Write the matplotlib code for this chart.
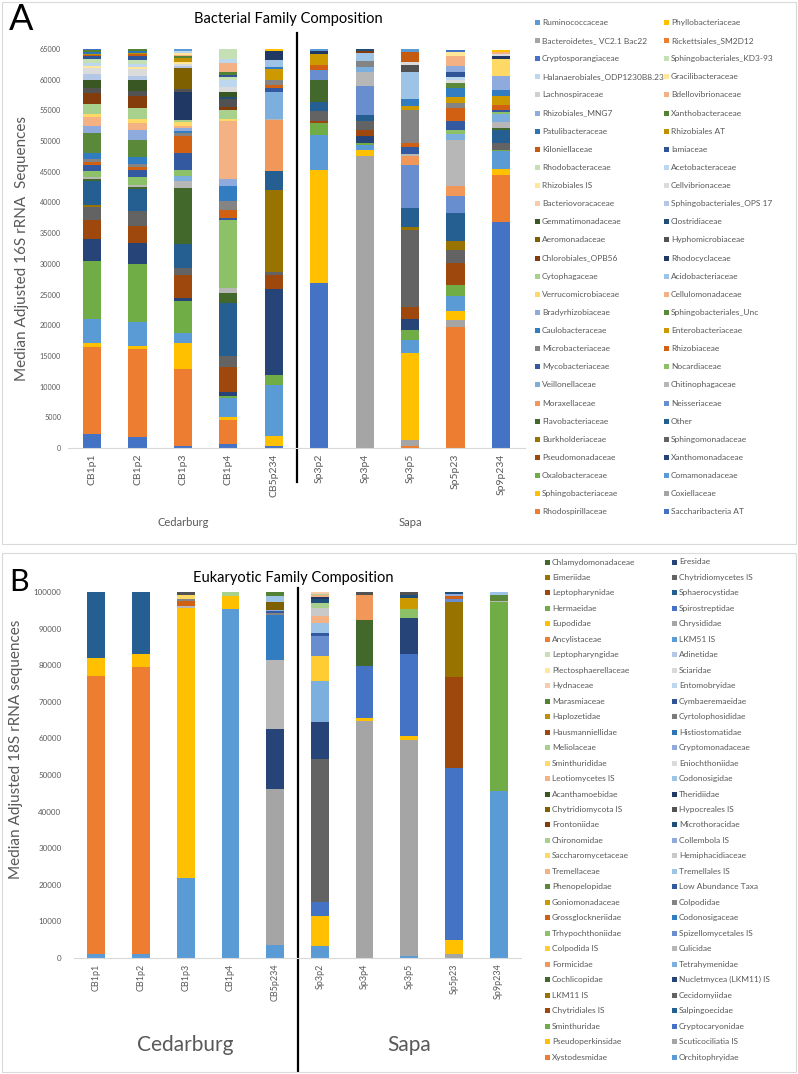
import numpy as np
import matplotlib
matplotlib.use("Agg")
import matplotlib.pyplot as plt
from matplotlib.patches import Rectangle

plt.rcParams['font.family'] = ['Lato', 'DejaVu Sans']

W, H = 798, 1074
GREY = '#595959'

# ---------------- 16S (panel A) ----------------
samples_16s = ['CB1p1', 'CB1p2', 'CB1p3', 'CB1p4', 'CB5p234',
               'Sp3p2', 'Sp3p4', 'Sp3p5', 'Sp5p23', 'Sp9p234']

# stacking order, bottom first
bact_families = [
    'Saccharibacteria AT', 'Rhodospirillaceae', 'Coxiellaceae', 'Sphingobacteriaceae',
    'Comamonadaceae', 'Oxalobacteraceae', 'Xanthomonadaceae', 'Pseudomonadaceae',
    'Sphingomonadaceae', 'Burkholderiaceae', 'Other', 'Flavobacteriaceae',
    'Neisseriaceae', 'Moraxellaceae', 'Chitinophagaceae', 'Veillonellaceae',
    'Nocardiaceae', 'Mycobacteriaceae', 'Rhizobiaceae', 'Microbacteriaceae',
    'Enterobacteriaceae', 'Caulobacteraceae', 'Sphingobacteriales_Unc', 'Bradyrhizobiaceae',
    'Cellulomonadaceae', 'Verrucomicrobiaceae', 'Acidobacteriaceae', 'Cytophagaceae',
    'Rhodocyclaceae', 'Chlorobiales_OPB56', 'Hyphomicrobiaceae', 'Aeromonadaceae',
    'Clostridiaceae', 'Gemmatimonadaceae', 'Sphingobacteriales_OPS 17', 'Bacteriovoracaceae',
    'Cellvibrionaceae', 'Rhizobiales IS', 'Acetobacteraceae', 'Rhodobacteraceae',
    'Iamiaceae', 'Kiloniellaceae', 'Rhizobiales AT', 'Patulibacteraceae',
    'Xanthobacteraceae', 'Rhizobiales_MNG7', 'Bdellovibrionaceae', 'Lachnospiraceae',
    'Gracilibacteraceae', 'Halanaerobiales_ODP1230B8.23', 'Sphingobacteriales_KD3-93',
    'Cryptosporangiaceae', 'Rickettsiales_SM2D12', 'Bacteroidetes_ VC2.1 Bac22',
    'Phyllobacteriaceae', 'Ruminococcaceae']

bact_colors = [
    '#4472C4', '#ED7D31', '#A5A5A5', '#FFC000', '#5B9BD5', '#70AD47',
    '#264478', '#9E480E', '#636363', '#997300', '#255E91', '#43682B',
    '#698ED0', '#F1975A', '#B7B7B7', '#7CAFDD', '#8CC168', '#335AA1',
    '#D26012', '#848484', '#CC9A00', '#327DC2', '#5A8A39', '#8FAADC',
    '#F4B183', '#FFD966', '#9DC3E6', '#A9D18E', '#203864', '#843C0C',
    '#525252', '#7F6000', '#1F4E79', '#385723', '#B4C7E7', '#F8CBAD',
    '#DBDBDB', '#FFE699', '#BDD7EE', '#C5E0B4', '#2F5597', '#C55A11',
    '#BF9000', '#2E75B6', '#548235', '#8FAADC', '#F4B183', '#D0D0D0',
    '#FFE699', '#BDD7EE', '#C5E0B4', '#4472C4', '#ED7D31', '#A5A5A5',
    '#FFC000', '#5B9BD5']

cb1p1_16s = [2200, 14300, 0, 550, 3900, 9500, 3600, 3100,
             2170, 200, 3900, 430, 0, 0, 270, 0,
             1000, 1030, 380, 540, 0, 980, 3200, 1250,
             1360, 540, 0, 1630, 0, 1740, 870, 0,
             0, 1300, 980, 0, 980, 270, 490, 700,
             430, 220, 160, 270, 430, 0, 0, 0,
             0, 0, 0, 130, 0, 0, 0, 0]
cb1p2_16s = [1800, 14330, 0, 450, 3900, 9500, 3400, 2800,
             2400, 0, 3600, 330, 0, 0, 330, 0,
             1250, 1250, 380, 490, 0, 1140, 2880, 1520,
             1200, 700, 0, 1740, 0, 1900, 920, 0,
             0, 1800, 650, 0, 1090, 330, 490, 700,
             650, 200, 220, 270, 330, 0, 0, 0,
             0, 0, 0, 60, 0, 0, 0, 0]
cb1p3_16s = [270, 12600, 0, 4230, 1630, 5270, 430, 3750,
             1140, 0, 3900, 9120, 0, 0, 1090, 810,
             1090, 2700, 2820, 430, 0, 430, 0, 380,
             380, 700, 0, 270, 4600, 0, 380, 3420,
             0, 0, 380, 0, 330, 330, 0, 0,
             0, 0, 650, 0, 270, 0, 220, 0,
             270, 380, 0, 0, 0, 0, 0, 330]
cb1p4_16s = [650, 3850, 0, 490, 3150, 270, 650, 4070,
             1900, 0, 8580, 1630, 0, 0, 810, 0,
             11020, 330, 1410, 1470, 0, 2330, 0, 1250,
             9450, 330, 0, 1470, 0, 430, 1300, 0,
             330, 810, 0, 0, 810, 0, 1200, 430,
             380, 0, 0, 0, 380, 0, 1520, 0,
             0, 650, 1630, 0, 0, 0, 0, 0]
cb5p234_16s = [270, 0, 0, 1740, 8200, 1740, 13950, 2280,
               490, 13410, 3100, 0, 0, 8200, 220, 4340,
               0, 700, 430, 920, 1740, 330, 0, 0,
               0, 0, 1200, 0, 1360, 0, 0, 0,
               0, 0, 0, 0, 0, 0, 0, 0,
               0, 0, 0, 0, 0, 0, 0, 0,
               0, 0, 0, 0, 0, 0, 380, 0]
sp3p2_16s = [26880, 0, 0, 18460, 5590, 2010, 0, 330,
             1630, 0, 1470, 3640, 1630, 0, 0, 0,
             0, 0, 810, 0, 1790, 0, 0, 0,
             0, 0, 0, 0, 430, 0, 0, 0,
             0, 0, 0, 0, 0, 0, 0, 0,
             0, 0, 0, 0, 0, 0, 0, 0,
             0, 0, 0, 0, 0, 0, 0, 330]
sp3p4_16s = [0, 0, 47500, 980, 810, 380, 1090, 980,
             1520, 0, 1030, 0, 4620, 0, 2330, 810,
             0, 0, 0, 980, 0, 0, 0, 0,
             0, 0, 1300, 0, 0, 300, 0, 0,
             370, 0, 0, 0, 0, 0, 0, 0,
             0, 0, 0, 0, 0, 0, 0, 0,
             0, 0, 0, 0, 0, 0, 0, 0]
sp3p5_16s = [0, 270, 980, 14280, 2000, 1630, 1900, 1900,
             12600, 430, 3150, 0, 7000, 1410, 380, 0,
             0, 1090, 700, 5380, 540, 1250, 0, 0,
             0, 0, 4340, 0, 0, 0, 1200, 0,
             0, 0, 0, 0, 430, 0, 0, 0,
             0, 1700, 0, 0, 0, 0, 0, 0,
             0, 0, 0, 0, 0, 0, 0, 430]
sp5p23_16s = [0, 19710, 1090, 1520, 2440, 1850, 0, 3530,
              2170, 1410, 4620, 0, 2710, 1570, 7490, 1090,
              540, 1520, 2170, 760, 980, 1520, 760, 0,
              0, 0, 0, 0, 0, 0, 0, 0,
              0, 0, 0, 0, 430, 0, 540, 0,
              810, 0, 0, 0, 0, 920, 1790, 0,
              540, 0, 0, 380, 0, 0, 0, 0]
sp9p234_16s = [36820, 7600, 0, 1090, 2820, 270, 0, 0,
               1090, 0, 2170, 330, 0, 0, 920, 1250,
               380, 270, 810, 0, 1470, 980, 0, 2280,
               0, 2880, 0, 0, 380, 0, 0, 0,
               0, 0, 0, 0, 430, 0, 0, 0,
               0, 0, 0, 0, 0, 0, 270, 0,
               0, 0, 0, 0, 0, 0, 380, 0]

# ---------------- 18S (panel B) ----------------
samples_18s = samples_16s

euk_families = [
    'Orchitophryidae', 'Xystodesmidae', 'Scuticociliatia IS', 'Pseudoperkinsidae',
    'Cryptocaryonidae', 'Sminthuridae', 'Salpingoecidae', 'Chytridiales IS',
    'Cecidomyiidae', 'LKM11 IS', 'Nucletmycea (LKM11) IS', 'Cochlicopidae',
    'Tetrahymenidae', 'Formicidae', 'Culicidae', 'Colpodida IS',
    'Spizellomycetales IS', 'Trhypochthoniidae', 'Codonosigaceae', 'Grossglockneriidae',
    'Colpodidae', 'Goniomonadaceae', 'Low Abundance Taxa', 'Phenopelopidae',
    'Tremellales IS', 'Tremellaceae', 'Hemiphacidiaceae', 'Saccharomycetaceae',
    'Collembola IS', 'Chironomidae', 'Microthoracidae', 'Frontoniidae',
    'Hypocreales IS', 'Chytridiomycota IS', 'Theridiidae', 'Acanthamoebidae',
    'Codonosigidae', 'Leotiomycetes IS', 'Eniochthoniidae', 'Sminthurididae',
    'Cryptomonadaceae', 'Meliolaceae', 'Histiostomatidae', 'Hausmanniellidae',
    'Cyrtolophosididae', 'Haplozetidae', 'Cymbaeremaeidae', 'Marasmiaceae',
    'Entomobryidae', 'Hydnaceae', 'Sciaridae', 'Plectosphaerellaceae',
    'Adinetidae', 'Leptopharyngidae', 'LKM51 IS', 'Ancylistaceae',
    'Chrysididae', 'Eupodidae', 'Spirostreptidae', 'Hermaeidae',
    'Sphaerocystidae', 'Leptopharynidae', 'Chytridiomycetes IS', 'Eimeriidae',
    'Eresidae', 'Chlamydomonadaceae']

euk_colors = [
    '#5B9BD5', '#ED7D31', '#A5A5A5', '#FFC000', '#4472C4', '#70AD47',
    '#255E91', '#9E480E', '#636363', '#997300', '#264478', '#43682B',
    '#7CAFDD', '#F1975A', '#B7B7B7', '#FFCD33', '#698ED0', '#8CC168',
    '#327DC2', '#D26012', '#848484', '#CC9A00', '#335AA1', '#5A8A39',
    '#9DC3E6', '#F4B183', '#C9C9C9', '#FFD966', '#8FAADC', '#A9D18E',
    '#1F4E79', '#843C0C', '#525252', '#7F6000', '#203864', '#385723',
    '#9DC3E6', '#F4B183', '#DBDBDB', '#FFD966', '#8FAADC', '#A9D18E',
    '#2E75B6', '#9E480E', '#7B7B7B', '#BF9000', '#2F5597', '#548235',
    '#BDD7EE', '#F8CBAD', '#D9D9D9', '#FFE699', '#B4C7E7', '#C5E0B4',
    '#5B9BD5', '#ED7D31', '#A5A5A5', '#FFC000', '#4472C4', '#70AD47',
    '#255E91', '#9E480E', '#636363', '#997300', '#264478', '#43682B']

cb1p1_18s = [1100, 76040, 0, 4830, 0, 0,
             18030, 0, 0, 0, 0, 0,
             0, 0, 0, 0, 0, 0,
             0, 0, 0, 0, 0, 0,
             0, 0, 0, 0, 0, 0,
             0, 0, 0, 0, 0, 0,
             0, 0, 0, 0, 0, 0,
             0, 0, 0, 0, 0, 0,
             0, 0, 0, 0, 0, 0,
             0, 0, 0, 0, 0, 0,
             0, 0, 0, 0, 0, 0]
cb1p2_18s = [1100, 78400, 0, 3470, 0, 0,
             17030, 0, 0, 0, 0, 0,
             0, 0, 0, 0, 0, 0,
             0, 0, 0, 0, 0, 0,
             0, 0, 0, 0, 0, 0,
             0, 0, 0, 0, 0, 0,
             0, 0, 0, 0, 0, 0,
             0, 0, 0, 0, 0, 0,
             0, 0, 0, 0, 0, 0,
             0, 0, 0, 0, 0, 0,
             0, 0, 0, 0, 0, 0]
cb1p3_18s = [21860, 0, 0, 73770, 0, 0,
             0, 0, 0, 0, 0, 0,
             0, 0, 450, 0, 0, 0,
             0, 1370, 640, 0, 0, 0,
             0, 0, 0, 1180, 0, 0,
             0, 0, 730, 0, 0, 0,
             0, 0, 0, 0, 0, 0,
             0, 0, 0, 0, 0, 0,
             0, 0, 0, 0, 0, 0,
             0, 0, 0, 0, 0, 0,
             0, 0, 0, 0, 0, 0]
cb1p4_18s = [95440, 0, 0, 3370, 0, 0,
             0, 0, 0, 0, 0, 0,
             0, 0, 0, 0, 0, 0,
             0, 0, 0, 0, 0, 0,
             0, 0, 0, 0, 0, 1190,
             0, 0, 0, 0, 0, 0,
             0, 0, 0, 0, 0, 0,
             0, 0, 0, 0, 0, 0,
             0, 0, 0, 0, 0, 0,
             0, 0, 0, 0, 0, 0,
             0, 0, 0, 0, 0, 0]
cb5p234_18s = [3460, 0, 42710, 0, 0, 0,
               0, 0, 0, 0, 16390, 0,
               0, 0, 18940, 0, 0, 0,
               12290, 0, 460, 0, 460, 0,
               0, 0, 0, 0, 450, 0,
               0, 0, 0, 2000, 0, 0,
               1820, 0, 0, 0, 0, 0,
               0, 0, 0, 0, 0, 1020,
               0, 0, 0, 0, 0, 0,
               0, 0, 0, 0, 0, 0,
               0, 0, 0, 0, 0, 0]
sp3p2_18s = [3370, 0, 0, 8200, 3640, 0,
             0, 0, 39160, 0, 10020, 0,
             11380, 0, 0, 6830, 5460, 0,
             0, 0, 0, 0, 730, 0,
             2730, 2000, 2090, 0, 0, 1370,
             1090, 0, 0, 0, 550, 0,
             0, 450, 0, 0, 0, 270,
             0, 0, 0, 0, 0, 0,
             0, 640, 0, 0, 0, 0,
             0, 0, 0, 0, 0, 0,
             0, 0, 0, 0, 0, 0]
sp3p4_18s = [0, 0, 64850, 730, 14300, 0,
             0, 0, 0, 0, 0, 12570,
             0, 6650, 0, 0, 0, 0,
             0, 0, 0, 0, 0, 0,
             0, 0, 0, 0, 0, 0,
             0, 0, 900, 0, 0, 0,
             0, 0, 0, 0, 0, 0,
             0, 0, 0, 0, 0, 0,
             0, 0, 0, 0, 0, 0,
             0, 0, 0, 0, 0, 0,
             0, 0, 0, 0, 0, 0]
sp3p5_18s = [450, 0, 59200, 1090, 22400, 0,
             0, 0, 0, 0, 9740, 0,
             0, 0, 0, 0, 0, 2460,
             0, 0, 0, 3010, 0, 0,
             0, 0, 0, 0, 0, 0,
             910, 0, 730, 0, 0, 0,
             0, 0, 0, 0, 0, 0,
             0, 0, 0, 0, 0, 0,
             0, 0, 0, 0, 0, 0,
             0, 0, 0, 0, 0, 0,
             0, 0, 0, 0, 0, 0]
sp5p23_18s = [0, 0, 1180, 3830, 46900, 0,
              0, 24860, 0, 20400, 0, 0,
              0, 0, 0, 0, 910, 0,
              0, 730, 0, 0, 0, 0,
              0, 0, 0, 0, 640, 0,
              550, 0, 0, 0, 0, 0,
              0, 0, 0, 0, 0, 0,
              0, 0, 0, 0, 0, 0,
              0, 0, 0, 0, 0, 0,
              0, 0, 0, 0, 0, 0,
              0, 0, 0, 0, 0, 0]
sp9p234_18s = [45720, 0, 0, 0, 0, 51450,
               0, 0, 0, 0, 0, 0,
               0, 0, 450, 0, 0, 0,
               0, 0, 0, 0, 0, 1460,
               910, 0, 0, 0, 0, 0,
               0, 0, 0, 0, 0, 0,
               0, 0, 0, 0, 0, 0,
               0, 0, 0, 0, 0, 0,
               0, 0, 0, 0, 0, 0,
               0, 0, 0, 0, 0, 0,
               0, 0, 0, 0, 0, 0]

data_16s = np.array([cb1p1_16s, cb1p2_16s, cb1p3_16s, cb1p4_16s, cb5p234_16s,
                     sp3p2_16s, sp3p4_16s, sp3p5_16s, sp5p23_16s, sp9p234_16s]).T
data_18s = np.array([cb1p1_18s, cb1p2_18s, cb1p3_18s, cb1p4_18s, cb5p234_18s,
                     sp3p2_18s, sp3p4_18s, sp3p5_18s, sp5p23_18s, sp9p234_18s]).T


def fpos(x, y):
    # pixel position -> figure fraction
    return x / W, 1 - y / H


def stacked(ax, samples, data, colors):
    x = np.arange(len(samples))
    bottom = np.zeros(len(samples))
    for k in range(data.shape[0]):
        ax.bar(x, data[k], bottom=bottom, width=0.4, color=colors[k], linewidth=0)
        bottom += data[k]
    ax.set_xticks(x)
    ax.set_xticklabels(samples, rotation=90)
    for s in ['top', 'right', 'left']:
        ax.spines[s].set_visible(False)
    ax.spines['bottom'].set_color('#D9D9D9')
    ax.tick_params(length=0, colors=GREY)


def draw_legend(fig, names, colors, x_cols, y0, dy, fs):
    n = len(names)
    rows = (n + 1) // 2
    for i in range(rows):
        for c in range(2):
            k = n - 1 - (2 * i + c)
            if k < 0:
                continue
            xm, y = x_cols[c], y0 + i * dy
            x0, yb = fpos(xm - 2.5, y + 2.5)
            fig.patches.append(Rectangle((x0, yb), 5 / W, 5 / H, transform=fig.transFigure,
                                         facecolor=colors[k], edgecolor='none'))
            fx, fy = fpos(xm + 5, y)
            fig.text(fx, fy, names[k], fontsize=fs, color=GREY, va='center', ha='left')


fig = plt.figure(figsize=(W / 100, H / 100), dpi=100)

# panel frames
for (top, bot) in [(2, 544), (553, 1072)]:
    x0, y0 = fpos(2, bot)
    fig.patches.append(Rectangle((x0, y0), 794 / W, (bot - top) / H, transform=fig.transFigure,
                                 facecolor='none', edgecolor='#D9D9D9', lw=0.8))

# ---- panel A ----
axA = fig.add_axes([68 / W, 1 - 448 / H, 457 / W, 399 / H])
stacked(axA, samples_16s, data_16s, bact_colors)
axA.set_xlim(-0.53, 9.53)
axA.set_ylim(0, 65000)
axA.set_yticks(np.arange(0, 65001, 5000))
axA.tick_params(axis='y', labelsize=5.2, pad=5)
axA.tick_params(axis='x', labelsize=7.5, pad=4)
axA.axvline(4.5, ymin=-0.085, ymax=1.04, color='black', lw=1.6, clip_on=False)
axA.set_ylabel('Median Adjusted 16S rRNA  Sequences', fontsize=11, color=GREY, labelpad=8)
fig.text(*fpos(288, 19), 'Bacterial Family Composition', fontsize=10.5, ha='center', va='center')
fig.text(*fpos(9, 20), 'A', fontsize=26, ha='left', va='center')
fig.text(*fpos(183, 522), 'Cedarburg', fontsize=8, color=GREY, ha='center', va='center')
fig.text(*fpos(410, 522), 'Sapa', fontsize=8, color=GREY, ha='center', va='center')
draw_legend(fig, bact_families, bact_colors, [537, 666], 22.5, 18.12, 6)

# ---- panel B ----
axB = fig.add_axes([74 / W, 1 - 958 / H, 447 / W, 366 / H])
stacked(axB, samples_18s, data_18s, euk_colors)
axB.set_xlim(-0.5, 9.5)
axB.set_ylim(0, 100000)
axB.set_yticks(np.arange(0, 100001, 10000))
axB.tick_params(axis='y', labelsize=5.8, pad=9)
axB.tick_params(axis='x', labelsize=6.5, pad=4)
axB.axvline(4.5, ymin=-0.31, ymax=1.01, color='black', lw=1.6, clip_on=False)
axB.set_ylabel('Median Adjusted 18S rRNA sequences', fontsize=11, color=GREY, labelpad=6)
axB.yaxis.set_label_coords(-0.115, 0.57)
fig.text(*fpos(293, 578), 'Eukaryotic Family Composition', fontsize=10.5, ha='center', va='center')
fig.text(*fpos(9, 582), 'B', fontsize=22, ha='left', va='center')
fig.text(*fpos(185, 1045), 'Cedarburg', fontsize=15, color=GREY, ha='center', va='center')
fig.text(*fpos(409, 1045), 'Sapa', fontsize=15, color=GREY, ha='center', va='center')
draw_legend(fig, euk_families, euk_colors, [547, 674], 562, 15.47, 6)

fig.savefig('out.png', dpi=100)
